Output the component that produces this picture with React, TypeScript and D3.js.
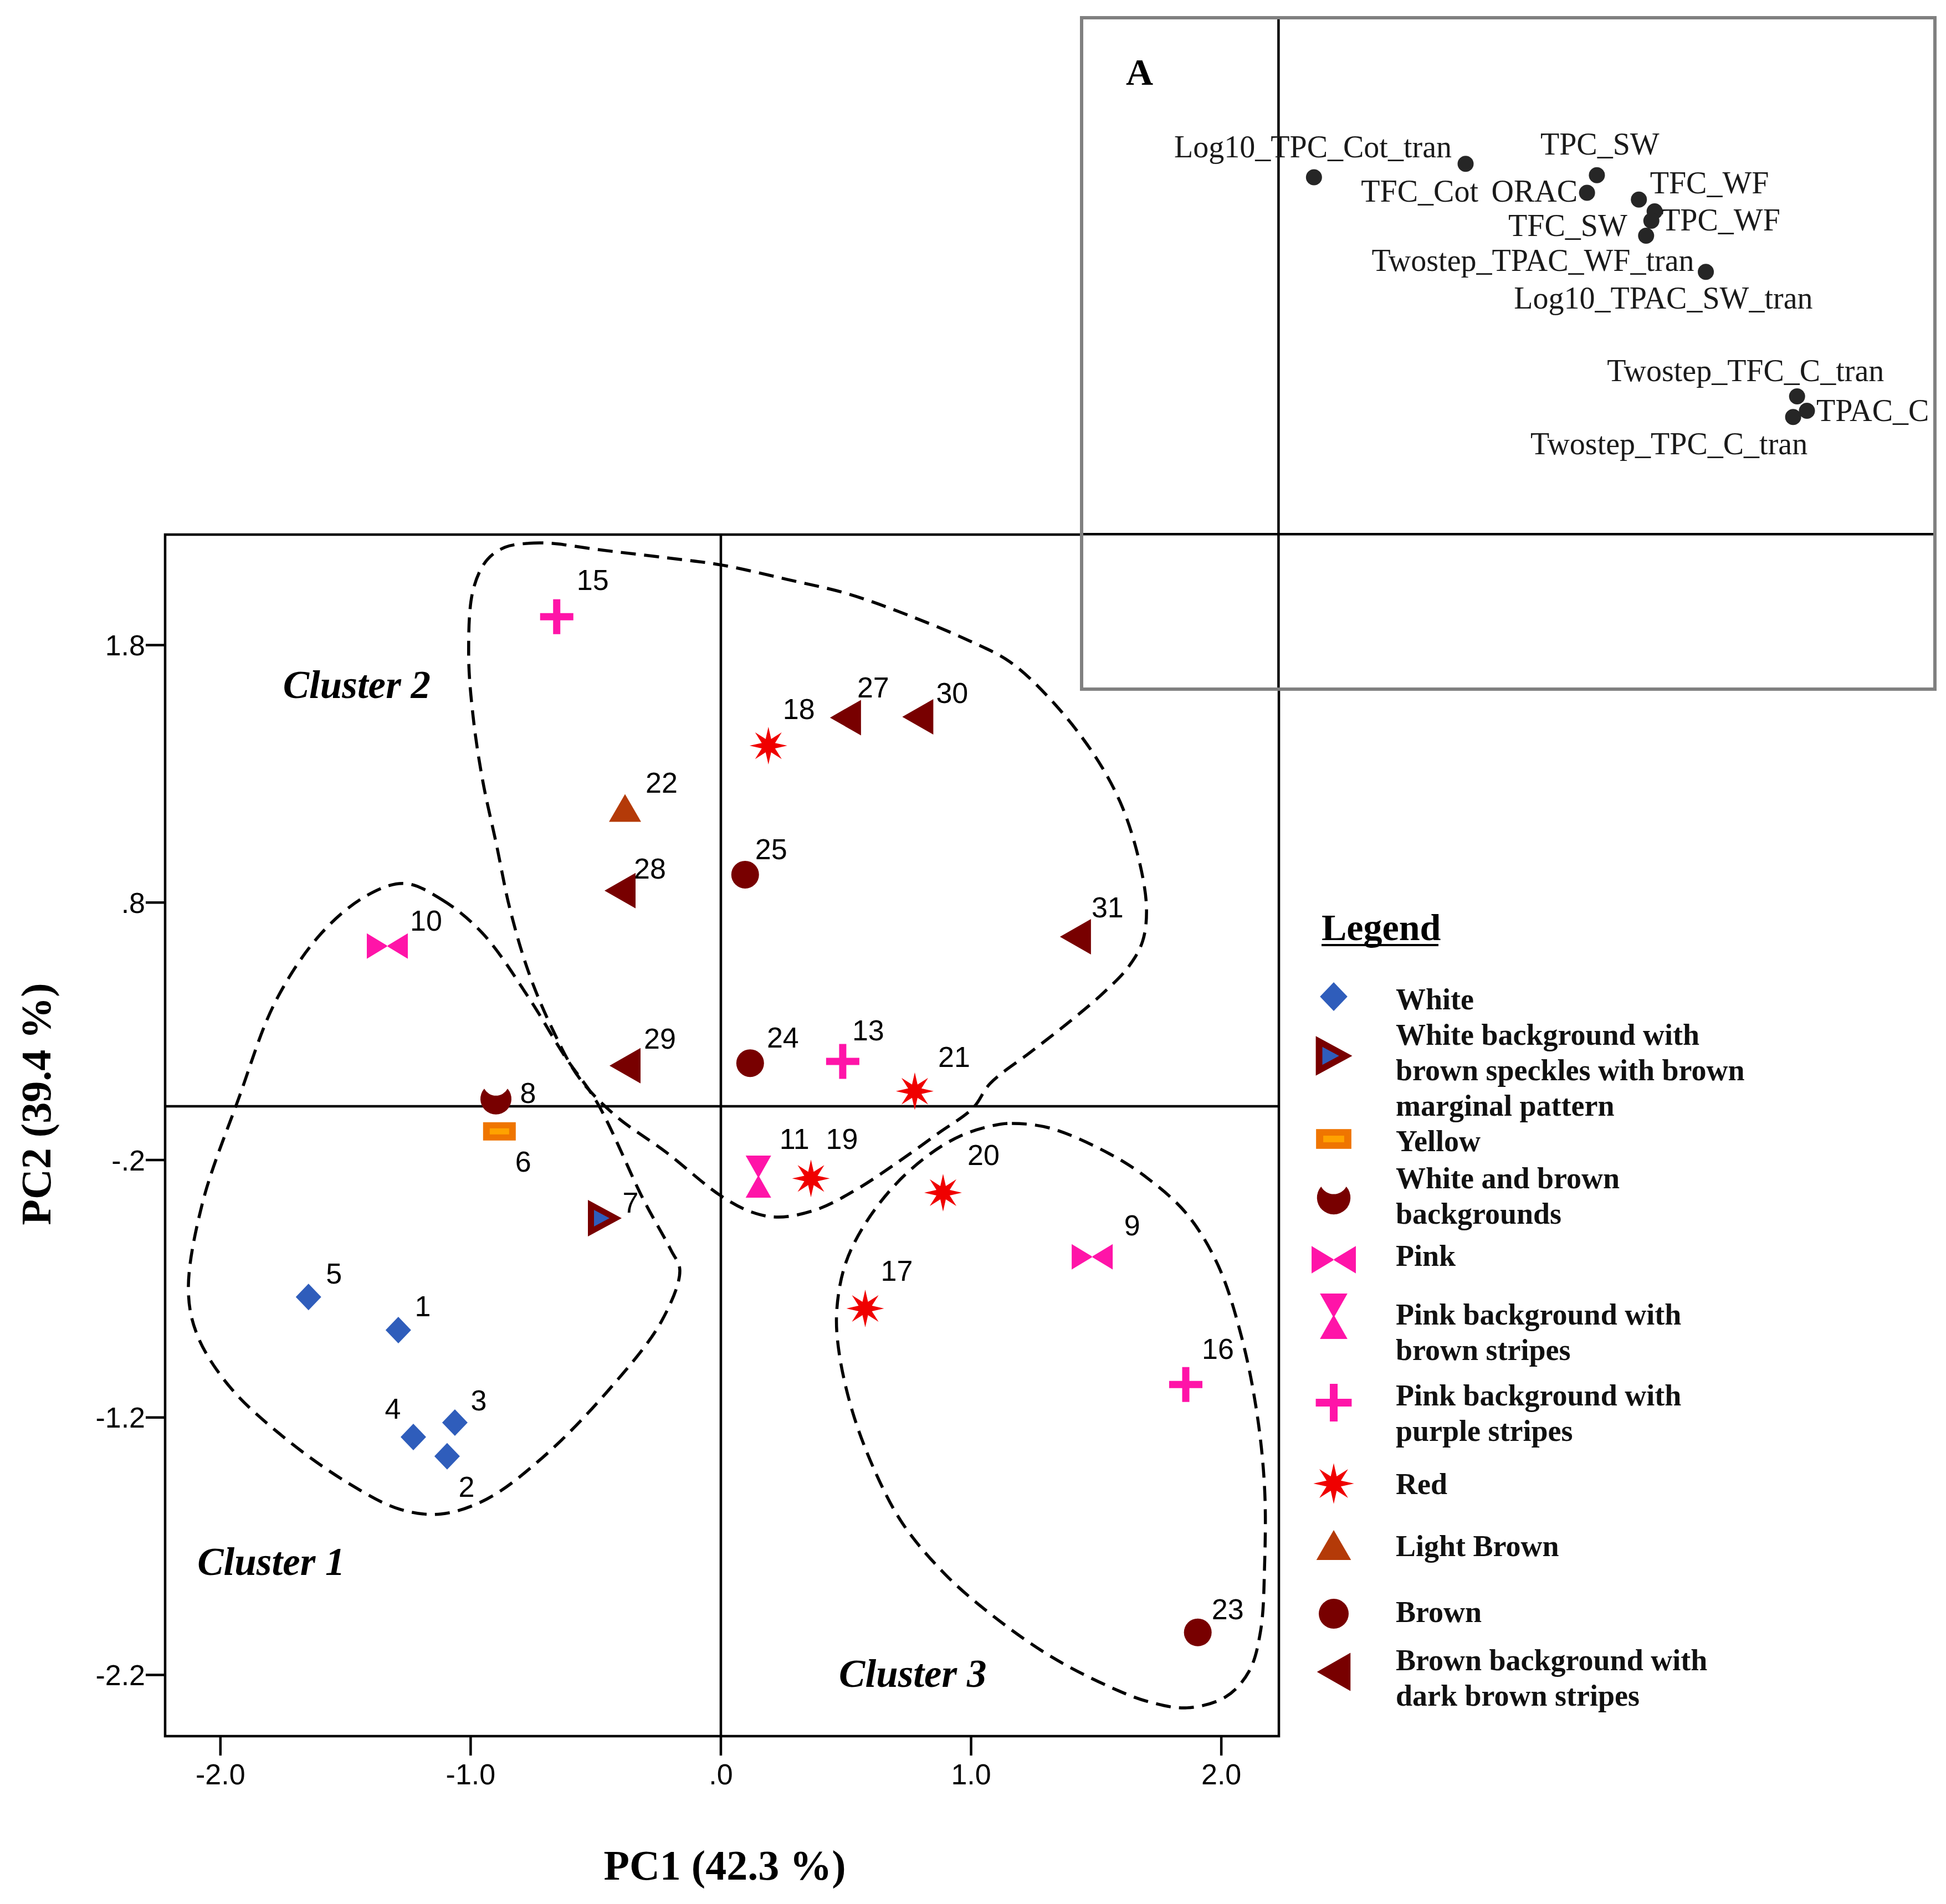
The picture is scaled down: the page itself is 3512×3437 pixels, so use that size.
import React from 'react';
import * as d3 from 'd3';

// ---- data ----
const categoryKeys = [
  'white',
  'whiteSpeckled',
  'yellow',
  'whiteBrown',
  'pink',
  'pinkBrown',
  'pinkPurple',
  'red',
  'lightBrown',
  'brown',
  'brownStriped'
];

const legendLabels = [
  ['White'],
  ['White background with', 'brown speckles with brown', 'marginal pattern'],
  ['Yellow'],
  ['White and brown', 'backgrounds'],
  ['Pink'],
  ['Pink background with', 'brown stripes'],
  ['Pink background with', 'purple stripes'],
  ['Red'],
  ['Light Brown'],
  ['Brown'],
  ['Brown background with', 'dark brown stripes']
];

const sampleIds = [1, 2, 3, 4, 5, 6, 7, 8, 9, 10, 11, 13, 15, 16, 17, 18, 19, 20, 21, 22, 23, 24, 25, 27, 28, 29, 30, 31];
const sampleCategory = [
  'white', 'white', 'white', 'white', 'white', 'yellow', 'whiteSpeckled', 'whiteBrown', 'pink', 'pink',
  'pinkBrown', 'pinkPurple', 'pinkPurple', 'pinkPurple', 'red', 'red', 'red', 'red', 'red', 'lightBrown',
  'brown', 'brown', 'brown', 'brownStriped', 'brownStriped', 'brownStriped', 'brownStriped', 'brownStriped'
];
const pc1Scores = [
  -1.289, -1.094, -1.063, -1.229, -1.648, -0.885, -0.465, -0.899, 1.484, -1.333,
  0.15, 0.487, -0.656, 1.858, 0.577, 0.19, 0.36, 0.888, 0.775, -0.383,
  1.906, 0.117, 0.097, 0.498, -0.403, -0.383, 0.787, 1.417
];
const pc2Scores = [
  -0.861, -1.351, -1.22, -1.276, -0.732, -0.089, -0.426, 0.037, -0.576, 0.631,
  -0.265, 0.183, 1.91, -1.072, -0.777, 1.409, -0.272, -0.327, 0.067, 1.167,
  -2.035, 0.176, 0.908, 1.518, 0.846, 0.166, 1.521, 0.667
];

const xTicks = [-2, -1, 0, 1, 2];
const xTickLabels = ['-2.0', '-1.0', '.0', '1.0', '2.0'];
const yTicks = [1.8, 0.8, -0.2, -1.2, -2.2];
const yTickLabels = ['1.8', '.8', '-.2', '-1.2', '-2.2'];

// component loadings (inset A)
const loadingNames = [
  'TFC_Cot', 'Log10_TPC_Cot_tran', 'TPC_SW', 'ORAC', 'TFC_WF', 'TPC_WF', 'Log10_TPAC_SW_tran',
  'TFC_SW', 'Twostep_TPAC_WF_tran', 'Twostep_TFC_C_tran', 'TPAC_C', 'Twostep_TPC_C_tran'
];
const loadingX = [0.054, 0.285, 0.485, 0.47, 0.549, 0.573, 0.568, 0.56, 0.651, 0.79, 0.805, 0.784];
const loadingY = [0.691, 0.717, 0.695, 0.661, 0.648, 0.625, 0.607, 0.578, 0.508, 0.267, 0.239, 0.227];

// cluster outlines (PC1, PC2)
const cluster1: [number, number][] = [
  [-1.265, 0.874], [-1.118, 0.813], [-0.952, 0.68], [-0.769, 0.432], [-0.623, 0.202], [-0.494, 0.022],
  [-0.31, -0.353], [-0.199, -0.551], [-0.164, -0.628], [-0.237, -0.826], [-0.456, -1.102], [-0.715, -1.358],
  [-0.935, -1.517], [-1.118, -1.575], [-1.285, -1.556], [-1.486, -1.457], [-1.743, -1.28], [-1.962, -1.082],
  [-2.091, -0.884], [-2.128, -0.708], [-2.073, -0.372], [-1.927, 0.039], [-1.779, 0.417], [-1.597, 0.68],
  [-1.413, 0.828]
];
const cluster2: [number, number][] = [
  [-0.862, 2.18], [-0.769, 2.195], [-0.678, 2.195], [-0.494, 2.171], [-0.219, 2.139], [0.002, 2.111],
  [0.264, 2.055], [0.507, 1.999], [0.751, 1.915], [0.994, 1.816], [1.156, 1.734], [1.32, 1.586],
  [1.482, 1.388], [1.595, 1.192], [1.668, 0.977], [1.701, 0.779], [1.685, 0.648], [1.628, 0.549],
  [1.53, 0.45], [1.4, 0.342], [1.238, 0.219], [1.076, 0.097], [1.008, 0.002], [0.868, -0.097],
  [0.698, -0.215], [0.543, -0.314], [0.385, -0.392], [0.23, -0.422], [0.122, -0.402], [-0.002, -0.338],
  [-0.219, -0.17], [-0.421, -0.028], [-0.567, 0.12], [-0.678, 0.318], [-0.769, 0.531], [-0.844, 0.779],
  [-0.897, 1.026], [-0.952, 1.274], [-0.99, 1.521], [-1.008, 1.767], [-0.99, 2.014], [-0.935, 2.13]
];
const cluster3: [number, number][] = [
  [1.085, -0.067], [1.163, -0.058], [1.318, -0.077], [1.553, -0.176], [1.708, -0.273], [1.863, -0.411],
  [1.987, -0.609], [2.08, -0.884], [2.142, -1.181], [2.173, -1.476], [2.173, -1.773], [2.157, -2.029],
  [2.111, -2.186], [2.018, -2.285], [1.863, -2.328], [1.708, -2.304], [1.553, -2.246], [1.318, -2.128],
  [1.085, -1.969], [0.899, -1.812], [0.729, -1.616], [0.62, -1.418], [0.527, -1.181], [0.472, -0.945],
  [0.463, -0.788], [0.496, -0.609], [0.574, -0.452], [0.698, -0.295], [0.837, -0.176], [0.961, -0.105]
];
const clusterNames = ['Cluster 1', 'Cluster 2', 'Cluster 3'];
const clusterNamePos: [number, number][] = [[-2.092, -1.812], [-1.75, 1.594], [0.472, -2.246]];

// ---- layout (pixels) ----
const W = 3512;
const H = 3437;

// number label offsets from the marker centre
const labelOffset: Record<number, [number, number]> = {
  1: [44, -44], 2: [35, 54], 3: [43, -41], 4: [-37, -52], 5: [46, -43], 6: [43, 54], 7: [47, -29],
  8: [58, -11], 9: [72, -57], 10: [70, -46], 11: [65, -69], 13: [46, -57], 15: [65, -67], 16: [58, -65],
  17: [57, -69], 18: [55, -67], 19: [56, -72], 20: [73, -69], 21: [71, -63], 22: [66, -46], 23: [54, -42],
  24: [59, -47], 25: [47, -47], 27: [50, -55], 28: [54, -40], 29: [63, -50], 30: [62, -44], 31: [58, -54]
};

// loading label placement: dx, baseline dy, anchor
const loadingLabelPos: [number, number, string][] = [
  [85, 44, 'start'], [-25, -12, 'end'], [-102, -37, 'start'], [-17, 16, 'end'], [20, -11, 'start'],
  [12, 34, 'start'], [-248, 159, 'start'], [-34, 1, 'end'], [-21, -2, 'end'], [-343, -27, 'start'],
  [17, 19, 'start'], [-474, 67, 'start']
];

// legend rows: symbol centre y, first text baseline
const legendRowY: [number, number][] = [
  [1799, 1822], [1906, 1886], [2056, 2078], [2162, 2145], [2274, 2285], [2376, 2391],
  [2532, 2537], [2678, 2697], [2789, 2809], [2913, 2928], [3018, 3015]
];

const BLUE = '#2F5DBB';
const MAROON = '#780000';
const ORANGE = '#EF7500';
const ORANGE_IN = '#FFA200';
const PINK = '#FF14A8';
const RED = '#F00000';
const LBROWN = '#B43A08';

const SANS = "'Liberation Sans', Arial, sans-serif";
const SERIF = "'Liberation Serif', 'Times New Roman', serif";

const starPath = (ro: number, ri: number, n: number) => {
  const pts: string[] = [];
  for (let i = 0; i < 2 * n; i++) {
    const a = -Math.PI / 2 + (i * Math.PI) / n;
    const r = i % 2 === 0 ? ro : ri;
    pts.push(`${(r * Math.cos(a)).toFixed(2)},${(r * Math.sin(a)).toFixed(2)}`);
  }
  return 'M' + pts.join('L') + 'Z';
};

const crescentPath = () => {
  const R = 28;
  const r = 24;
  const off = 30;
  const hy = (r * r - R * R - off * off) / (2 * off);
  const hx = Math.sqrt(R * R - hy * hy);
  return `M${-hx},${hy} A${R},${R} 0 1 0 ${hx},${hy} A${r},${r} 0 0 1 ${-hx},${hy} Z`;
};

const Marker = ({ cat, cx, cy, s = 1 }: { cat: string; cx: number; cy: number; s?: number }) => {
  const t = `translate(${cx},${cy}) scale(${s})`;
  switch (cat) {
    case 'white':
      return <path transform={t} d="M0,-24L23,0L0,24L-23,0Z" fill={BLUE} />;
    case 'whiteSpeckled':
      return (
        <g transform={t}>
          <path d="M-30,-33L31,0L-30,33Z" fill={MAROON} />
          <path d="M-19,-15L9,0L-19,15Z" fill={BLUE} />
        </g>
      );
    case 'yellow':
      return (
        <g transform={t}>
          <rect x={-29.5} y={-16.5} width={59} height={33} fill={ORANGE} />
          <rect x={-17.5} y={-5.5} width={35} height={11} fill={ORANGE_IN} />
        </g>
      );
    case 'whiteBrown':
      return <path transform={t} d={crescentPath()} fill={MAROON} />;
    case 'pink':
      return <path transform={t} d="M-37,-23L1,0L-37,23Z M37,-23L-1,0L37,23Z" fill={PINK} />;
    case 'pinkBrown':
      return <path transform={t} d="M-23,-38L23,-38L1.5,0L23,38L-23,38L-1.5,0Z" fill={PINK} />;
    case 'pinkPurple':
      return (
        <path
          transform={t}
          d="M-30,-6.5H-6.5V-31.5H6.5V-6.5H30V6.5H6.5V31.5H-6.5V6.5H-30Z"
          fill={PINK}
        />
      );
    case 'red':
      return <path transform={t} d={starPath(34, 13, 8)} fill={RED} />;
    case 'lightBrown':
      return <path transform={t} d="M0,-25L29,25L-29,25Z" fill={LBROWN} />;
    case 'brown':
      return <circle transform={t} r={25} fill={MAROON} />;
    case 'brownStriped':
      return <path transform={t} d="M-28,0L28,-32L28,32Z" fill={MAROON} />;
    default:
      return null;
  }
};

const App = () => {
  const x = d3.scaleLinear().domain([-2.221, 2.23]).range([298, 2308]);
  const y = d3.scaleLinear().domain([-2.438, 2.229]).range([3134, 965]);
  const ix = d3.scaleLinear().domain([-0.3, 1.0]).range([1952, 3492]);
  const iy = d3.scaleLinear().domain([-0.3, 1.0]).range([1244, 32]);

  const outline = d3
    .line<[number, number]>()
    .x(d => x(d[0]))
    .y(d => y(d[1]))
    .curve(d3.curveCatmullRomClosed.alpha(0.5));

  const [x0, x1] = x.range();
  const [y0, y1] = y.range();

  return (
    <div style={{ position: 'absolute', left: 0, top: 0 }}>
      <svg width={W} height={H} viewBox={`0 0 ${W} ${H}`} style={{ display: 'block', background: '#fff' }}>
        <rect width={W} height={H} fill="#fff" />

        {/* cluster outlines */}
        {[cluster1, cluster2, cluster3].map((c, i) => (
          <path
            key={'cl' + i}
            d={outline(c) || ''}
            fill="none"
            stroke="#000"
            strokeWidth={5.5}
            strokeDasharray="27 15"
          />
        ))}

        {/* reference lines */}
        <line x1={x(0)} x2={x(0)} y1={y1} y2={y0} stroke="#000" strokeWidth={4.5} />
        <line x1={x0} x2={x1} y1={y(0) - 4} y2={y(0) - 4} stroke="#000" strokeWidth={4.5} />

        {/* frame */}
        <rect x={x0} y={y1} width={x1 - x0} height={y0 - y1} fill="none" stroke="#000" strokeWidth={4.5} />

        {/* y axis */}
        {yTicks.map((t, i) => (
          <g key={'yt' + i}>
            <line x1={x0 - 35} x2={x0} y1={y(t)} y2={y(t)} stroke="#000" strokeWidth={4.5} />
            <text
              x={x0 - 36}
              y={y(t)}
              dy="0.36em"
              textAnchor="end"
              fontFamily={SANS}
              fontSize={52}
              fill="#000"
            >
              {yTickLabels[i]}
            </text>
          </g>
        ))}

        {/* x axis */}
        {xTicks.map((t, i) => (
          <g key={'xt' + i}>
            <line x1={x(t)} x2={x(t)} y1={y0} y2={y0 + 35} stroke="#000" strokeWidth={4.5} />
            <text x={x(t)} y={3221} textAnchor="middle" fontFamily={SANS} fontSize={52} fill="#000">
              {xTickLabels[i]}
            </text>
          </g>
        ))}

        {/* cluster names */}
        {clusterNames.map((n, i) => (
          <text
            key={n}
            x={x(clusterNamePos[i][0])}
            y={y(clusterNamePos[i][1])}
            fontFamily={SERIF}
            fontWeight="bold"
            fontStyle="italic"
            fontSize={71}
            fill="#000"
          >
            {n}
          </text>
        ))}

        {/* sample markers */}
        {sampleIds.map((id, i) => (
          <Marker key={'m' + id} cat={sampleCategory[i]} cx={x(pc1Scores[i])} cy={y(pc2Scores[i])} />
        ))}
        {sampleIds.map((id, i) => (
          <text
            key={'l' + id}
            x={x(pc1Scores[i]) + labelOffset[id][0]}
            y={y(pc2Scores[i]) + labelOffset[id][1]}
            dy="0.36em"
            textAnchor="middle"
            fontFamily={SANS}
            fontSize={52}
            fill="#000"
          >
            {id}
          </text>
        ))}

        {/* inset A: component loadings */}
        <g>
          <rect
            x={ix.range()[0]}
            y={iy.range()[1]}
            width={ix.range()[1] - ix.range()[0]}
            height={iy.range()[0] - iy.range()[1]}
            fill="#fff"
          />
          <line x1={ix(0)} x2={ix(0)} y1={iy.range()[1]} y2={iy.range()[0]} stroke="#000" strokeWidth={4.5} />
          <line x1={ix.range()[0]} x2={ix.range()[1]} y1={iy(0)} y2={iy(0)} stroke="#000" strokeWidth={4.5} />
          <rect
            x={ix.range()[0]}
            y={iy.range()[1]}
            width={ix.range()[1] - ix.range()[0]}
            height={iy.range()[0] - iy.range()[1]}
            fill="none"
            stroke="#808080"
            strokeWidth={6}
          />
          <text x={2032} y={153} fontFamily={SERIF} fontWeight="bold" fontSize={68} fill="#000">
            A
          </text>
          {loadingNames.map((n, i) => (
            <circle key={'ld' + n} cx={ix(loadingX[i])} cy={iy(loadingY[i])} r={14.5} fill="#262626" />
          ))}
          {loadingNames.map((n, i) => (
            <text
              key={'ll' + n}
              x={ix(loadingX[i]) + loadingLabelPos[i][0]}
              y={iy(loadingY[i]) + loadingLabelPos[i][1]}
              textAnchor={loadingLabelPos[i][2]}
              fontFamily={SERIF}
              fontSize={56}
              fill="#1a1a1a"
            >
              {n}
            </text>
          ))}
        </g>

        {/* legend */}
        <text x={2385} y={1697} fontFamily={SERIF} fontWeight="bold" fontSize={68} fill="#000">
          Legend
        </text>
        <line x1={2385} x2={2596} y1={1706} y2={1706} stroke="#000" strokeWidth={4} />
        {categoryKeys.map((k, i) => (
          <g key={'lg' + k}>
            <Marker cat={k} cx={2407} cy={legendRowY[i][0]} s={1.08} />
            {legendLabels[i].map((line, j) => (
              <text
                key={j}
                x={2519}
                y={legendRowY[i][1] + j * 64}
                fontFamily={SERIF}
                fontWeight="bold"
                fontSize={54}
                fill="#111"
              >
                {line}
              </text>
            ))}
          </g>
        ))}

        {/* axis titles */}
        <text x={1308} y={3393} textAnchor="middle" fontFamily={SERIF} fontWeight="bold" fontSize={76} fill="#000">
          PC1 (42.3 %)
        </text>
        <text
          transform={`translate(91,1993) rotate(-90)`}
          textAnchor="middle"
          fontFamily={SERIF}
          fontWeight="bold"
          fontSize={76}
          fill="#000"
        >
          PC2 (39.4 %)
        </text>
      </svg>
    </div>
  );
};

export default App;
